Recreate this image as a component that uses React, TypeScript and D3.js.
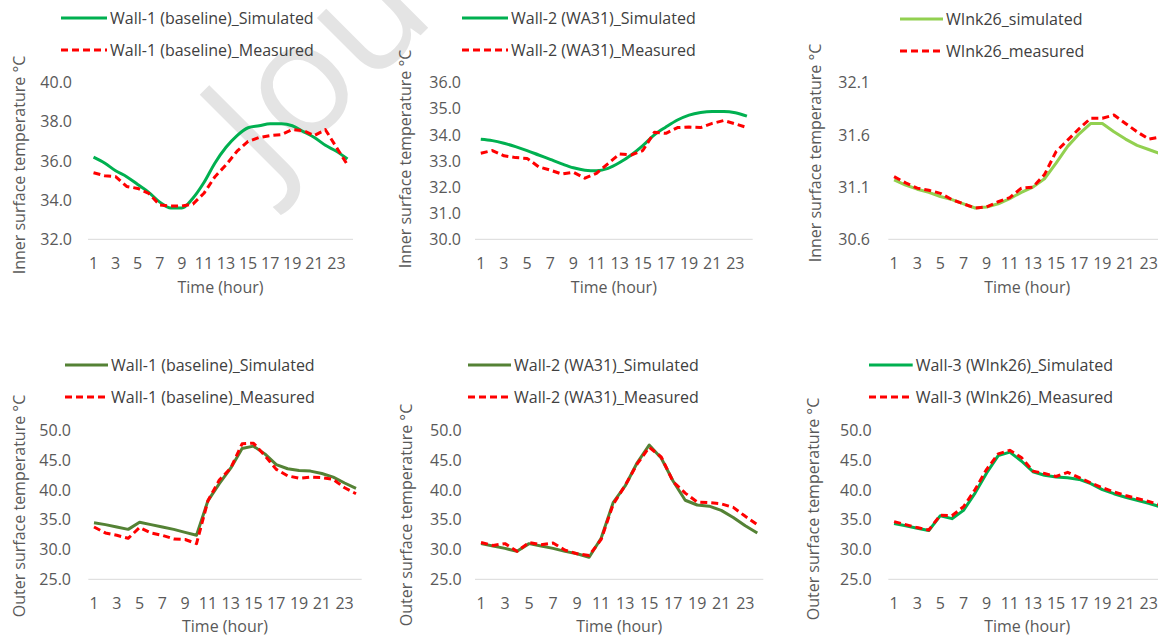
import React from 'react';
import * as d3 from 'd3';

// hours of the day (category axis)
const hours = [1, 2, 3, 4, 5, 6, 7, 8, 9, 10, 11, 12, 13, 14, 15, 16, 17, 18, 19, 20, 21, 22, 23, 24];
const hourTicks = [1, 3, 5, 7, 9, 11, 13, 15, 17, 19, 21, 23];

// inner surface temperature
const wall1InnerSim  = [36.2, 35.9, 35.5, 35.2, 34.8, 34.4, 33.9, 33.6, 33.6, 34.1, 34.9, 35.9, 36.7, 37.3, 37.7, 37.8, 37.9, 37.9, 37.8, 37.5, 37.2, 36.8, 36.5, 36.1];
const wall1InnerMeas = [35.4, 35.25, 35.2, 34.7, 34.6, 34.35, 33.75, 33.7, 33.7, 33.8, 34.35, 35.2, 35.8, 36.5, 37.0, 37.2, 37.3, 37.35, 37.6, 37.55, 37.3, 37.6, 36.7, 35.8];
const wall2InnerSim  = [33.83, 33.78, 33.68, 33.55, 33.4, 33.23, 33.06, 32.89, 32.74, 32.65, 32.63, 32.72, 32.94, 33.23, 33.59, 34.0, 34.3, 34.57, 34.76, 34.86, 34.9, 34.9, 34.85, 34.72];
const wall2InnerMeas = [33.3, 33.4, 33.2, 33.13, 33.1, 32.78, 32.65, 32.5, 32.57, 32.34, 32.53, 32.9, 33.27, 33.23, 33.4, 34.1, 34.06, 34.28, 34.3, 34.28, 34.44, 34.55, 34.42, 34.28];
const wink26InnerSim  = [31.17, 31.12, 31.08, 31.05, 31.01, 30.98, 30.94, 30.9, 30.91, 30.94, 30.99, 31.05, 31.1, 31.18, 31.33, 31.49, 31.61, 31.71, 31.71, 31.63, 31.56, 31.5, 31.46, 31.42];
const wink26InnerMeas = [31.2, 31.14, 31.09, 31.07, 31.04, 30.98, 30.94, 30.9, 30.91, 30.96, 31.0, 31.09, 31.1, 31.22, 31.44, 31.55, 31.66, 31.76, 31.76, 31.79, 31.71, 31.63, 31.56, 31.58];

// outer surface temperature
const wall1OuterSim  = [34.5, 34.2, 33.8, 33.4, 34.6, 34.2, 33.8, 33.4, 32.9, 32.4, 38.2, 41.1, 43.7, 47.0, 47.4, 46.1, 44.3, 43.6, 43.3, 43.2, 42.8, 42.2, 41.2, 40.3];
const wall1OuterMeas = [33.8, 32.8, 32.4, 31.9, 33.7, 32.8, 32.4, 31.8, 31.7, 31.0, 38.2, 41.7, 43.7, 47.8, 47.9, 45.8, 43.5, 42.4, 42.0, 42.2, 42.1, 41.8, 40.4, 39.4];
const wall2OuterSim  = [31.0, 30.6, 30.2, 29.7, 31.0, 30.6, 30.2, 29.7, 29.3, 28.7, 31.9, 37.9, 40.7, 44.6, 47.6, 45.4, 41.5, 38.3, 37.5, 37.3, 36.6, 35.4, 34.0, 32.8];
const wall2OuterMeas = [31.2, 30.7, 31.0, 29.7, 31.2, 30.8, 31.1, 29.9, 29.3, 29.0, 31.7, 37.6, 40.8, 44.4, 47.2, 45.6, 41.4, 39.5, 38.0, 37.9, 37.7, 37.1, 35.6, 34.2];
const wall3OuterSim  = [34.4, 34.0, 33.6, 33.2, 35.7, 35.2, 36.6, 39.5, 42.9, 45.8, 46.4, 44.9, 43.1, 42.5, 42.2, 42.1, 41.8, 41.1, 40.1, 39.4, 38.8, 38.3, 37.8, 37.2];
const wall3OuterMeas = [34.7, 34.2, 33.7, 33.3, 35.8, 35.7, 37.2, 40.1, 43.5, 46.1, 46.7, 45.5, 43.2, 42.8, 42.3, 43.0, 42.1, 41.2, 40.4, 39.7, 39.1, 38.6, 38.1, 37.5];

const innerTicks1 = [32, 34, 36, 38, 40];
const innerTicks2 = [30, 31, 32, 33, 34, 35, 36];
const innerTicks3 = [30.6, 31.1, 31.6, 32.1];
const outerTicks  = [25, 30, 35, 40, 45, 50];

const FONT = '"Open Sans", "Noto Sans", sans-serif';
const RED = '#FF0000';

type PanelProps = {
  left: number; right: number; top: number; bottom: number;
  ticks: number[]; tickRight: number;
  yTitle: string; yTitleX: number; yTitleCy: number; xTitleY: number;
  legX1: number; legX2: number; legY: number;
  simLabel: string; measLabel: string; simColor: string;
  sim: number[]; meas: number[]; smooth?: boolean;
};

function Panel(p: PanelProps) {
  const x = d3.scalePoint<number>().domain(hours).range([p.left, p.right]).padding(0.5);
  const y = d3.scaleLinear().domain(d3.extent(p.ticks) as [number, number]).range([p.bottom, p.top]);
  const simLine = d3.line<number>()
    .x((_, i) => x(hours[i])!)
    .y(d => y(d))
    .curve(p.smooth ? d3.curveMonotoneX : d3.curveLinear);
  const measLine = d3.line<number>().x((_, i) => x(hours[i])!).y(d => y(d));
  const cx = (p.left + p.right) / 2;

  return (
    <g fontFamily={FONT}>
      {/* legend */}
      <line x1={p.legX1} x2={p.legX2} y1={p.legY} y2={p.legY} stroke={p.simColor} strokeWidth={3} />
      <text x={p.legX2 + 3} y={p.legY} dy="0.35em" fontSize={16} fill="#404040">{p.simLabel}</text>
      <line x1={p.legX1} x2={p.legX2} y1={p.legY + 32} y2={p.legY + 32} stroke={RED} strokeWidth={3} strokeDasharray="7 4" />
      <text x={p.legX2 + 3} y={p.legY + 32} dy="0.35em" fontSize={16} fill="#404040">{p.measLabel}</text>

      {/* axes */}
      <line x1={p.left} x2={p.right} y1={p.bottom} y2={p.bottom} stroke="#D9D9D9" strokeWidth={1} />
      {p.ticks.map(t => (
        <text key={t} x={p.tickRight} y={y(t)} dy="0.35em" textAnchor="end" fontSize={16} fill="#595959">
          {t.toFixed(1)}
        </text>
      ))}
      {hourTicks.map(h => (
        <text key={h} x={x(h)} y={p.bottom + 24} dy="0.35em" textAnchor="middle" fontSize={16} fill="#595959">{h}</text>
      ))}
      <text x={cx} y={p.xTitleY} dy="0.35em" textAnchor="middle" fontSize={16} fill="#595959">Time (hour)</text>
      <text transform={`translate(${p.yTitleX},${p.yTitleCy}) rotate(-90)`} dy="0.35em" textAnchor="middle" fontSize={16} fill="#595959">
        {p.yTitle}
      </text>

      {/* series */}
      <path d={simLine(p.sim)!} fill="none" stroke={p.simColor} strokeWidth={3} strokeLinejoin="round" />
      <path d={measLine(p.meas)!} fill="none" stroke={RED} strokeWidth={3} strokeDasharray="7 4" strokeLinejoin="round" />
    </g>
  );
}

export default function App() {
  const inner = 'Inner surface temperature °C';
  const outer = 'Outer surface temperature °C';
  return (
    <svg width={1158} height={636} style={{ position: 'absolute', left: 0, top: 0, background: '#fff' }}>
      <rect width={1158} height={636} fill="#fff" />
      {/* page watermark, mostly outside the picture */}
      <text transform="translate(270,186) rotate(-45)" fontSize={160} fontFamily={FONT} fill="#E4E4E4">Jou</text>

      <Panel left={88} right={353} top={82.7} bottom={239.3} ticks={innerTicks1} tickRight={72}
        yTitle={inner} yTitleX={19} yTitleCy={165} xTitleY={287}
        legX1={61} legX2={107} legY={18}
        simLabel="Wall-1 (baseline)_Simulated" measLabel="Wall-1 (baseline)_Measured" simColor="#00B050"
        sim={wall1InnerSim} meas={wall1InnerMeas} smooth />
      <Panel left={475} right={752.7} top={82.7} bottom={239.3} ticks={innerTicks2} tickRight={461}
        yTitle={inner} yTitleX={405} yTitleCy={159} xTitleY={287}
        legX1={462} legX2={508} legY={18}
        simLabel="Wall-2 (WA31)_Simulated" measLabel="Wall-2 (WA31)_Measured" simColor="#00B050"
        sim={wall2InnerSim} meas={wall2InnerMeas} smooth />
      <Panel left={888.3} right={1166} top={82.7} bottom={239.3} ticks={innerTicks3} tickRight={870}
        yTitle={inner} yTitleX={815} yTitleCy={153} xTitleY={287}
        legX1={900} legX2={943} legY={19}
        simLabel="WInk26_simulated" measLabel="WInk26_measured" simColor="#92D050"
        sim={wink26InnerSim} meas={wink26InnerMeas} />

      <Panel left={88.3} right={361.7} top={430.7} bottom={579.3} ticks={outerTicks} tickRight={71}
        yTitle={outer} yTitleX={19} yTitleCy={506} xTitleY={626}
        legX1={65} legX2={108} legY={365}
        simLabel="Wall-1 (baseline)_Simulated" measLabel="Wall-1 (baseline)_Measured" simColor="#548235"
        sim={wall1OuterSim} meas={wall1OuterMeas} />
      <Panel left={475} right={763.3} top={430.7} bottom={579.3} ticks={outerTicks} tickRight={461.7}
        yTitle={outer} yTitleX={406} yTitleCy={515} xTitleY={626}
        legX1={468} legX2={511} legY={365}
        simLabel="Wall-2 (WA31)_Simulated" measLabel="Wall-2 (WA31)_Measured" simColor="#548235"
        sim={wall2OuterSim} meas={wall2OuterMeas} />
      <Panel left={888.3} right={1166} top={430.7} bottom={579.3} ticks={outerTicks} tickRight={871.7}
        yTitle={outer} yTitleX={813} yTitleCy={509} xTitleY={626}
        legX1={869} legX2={912.7} legY={365}
        simLabel="Wall-3 (WInk26)_Simulated" measLabel="Wall-3 (WInk26)_Measured" simColor="#00B050"
        sim={wall3OuterSim} meas={wall3OuterMeas} />
    </svg>
  );
}
